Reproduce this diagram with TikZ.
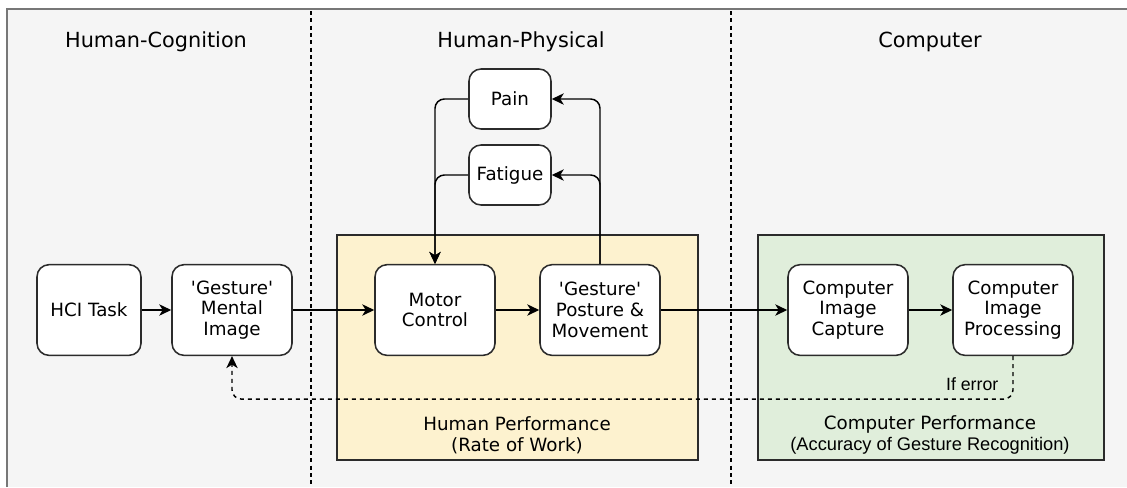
\documentclass[tikz,border=0pt]{standalone}
\usepackage{fontspec}
\setmainfont{DejaVu Sans}[Ligatures=TeXOff]
\newfontfamily\arialfont{Liberation Sans}[Ligatures=TeXOff]
\usetikzlibrary{arrows.meta,positioning}
\definecolor{bggray}{HTML}{F5F5F5}
\definecolor{framegray}{HTML}{777777}
\definecolor{humanfill}{HTML}{FDF2CF}
\definecolor{compfill}{HTML}{E0EEDB}
\definecolor{edgedark}{HTML}{2B2B2B}

\begin{document}
\begin{tikzpicture}[x=0.75pt, y=-0.75pt,
  every node/.style={font=\fontsize{13.7}{15.6}\selectfont, align=center},
  blockbox/.style={draw=edgedark, fill=white, line width=1.15pt, rounded corners=9pt,
    minimum width=90pt, minimum height=68pt, inner sep=2pt},
  smallbox/.style={blockbox, minimum width=61.5pt, minimum height=45pt},
  headtxt/.style={font=\fontsize{15.6}{18}\selectfont},
  flow/.style={-{Stealth[length=9pt,width=8.5pt,inset=2.6pt]}, line width=1.1pt, rounded corners=7pt},
  errline/.style={flow, dash pattern=on 3pt off 3pt},
  perfbox/.style={draw=edgedark, line width=1.1pt}]

  % canvas and lanes
  \useasboundingbox (0,0) rectangle (1127,487);
  \fill[bggray] (7,9) rectangle (1127,487);
  \draw[framegray, line width=1pt] (7,487) -- (7,9) -- (1127,9);
  \foreach \xs in {311,731}
    \draw[line width=1.1pt, dash pattern=on 3pt off 2.5pt] (\xs,11) -- (\xs,487);
  \node[headtxt] (hcog) at (156,42) {Human-Cognition};
  \node[headtxt] (hphys) at (521,42) {Human-Physical};
  \node[headtxt] (hcomp) at (930,42) {Computer};

  % performance areas
  \draw[perfbox, fill=humanfill] (337,235) rectangle (698,460);
  \draw[perfbox, fill=compfill] (758,235) rectangle (1104,460);
  \node (humperf) at (517,435) {Human Performance\\(Rate of Work)};
  \node (compperf) at (930,435) {Computer Performance\\{\arialfont (Accuracy of Gesture Recognition)}};

  % blocks
  \node[blockbox, minimum width=78pt] (task) at (89,310) {HCI Task};
  \node[blockbox] (mental) at (232,310) {'Gesture'\\Mental\\Image};
  \node[blockbox] (motor) at (435,310) {Motor\\Control};
  \node[blockbox] (posture) at (600,310) {'Gesture'\\Posture \&\\Movement};
  \node[blockbox] (capture) at (848,310) {Computer\\Image\\Capture};
  \node[blockbox] (proc) at (1013,310) {Computer\\Image\\Processing};
  \node[smallbox] (pain) at (510,99) {Pain};
  \node[smallbox] (fatigue) at (510,175) {Fatigue};

  % connectors
  \draw[flow] (task) -- (mental);
  \draw[flow] (mental) -- (motor);
  \draw[flow] (motor) -- (posture);
  \draw[flow] (posture) -- (capture);
  \draw[flow] (capture) -- (proc);
  \draw[flow] (posture.north) |- (fatigue.east);
  \draw[flow] (posture.north) |- (pain.east);
  \draw[flow] (pain.west) -| (motor.north);
  \draw[flow] (fatigue.west) -| (motor.north);
  \draw[errline] (proc.south) -- ++(0,43) -| (mental.south);
  \node[font=\arialfont\fontsize{13.3}{15}\selectfont, anchor=east] (iferr) at (1003,384) {If error};
\end{tikzpicture}
\end{document}
